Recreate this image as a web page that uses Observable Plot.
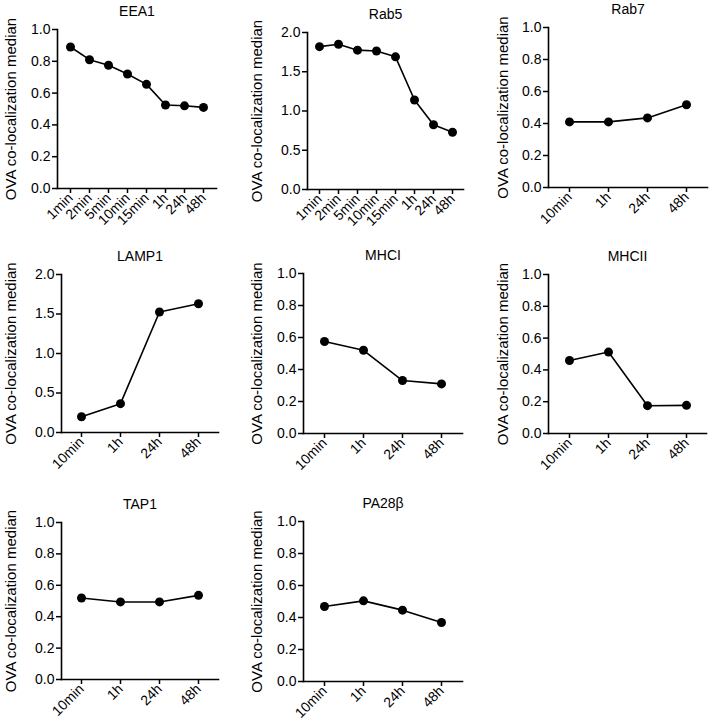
<!DOCTYPE html>
<html><head><meta charset="utf-8">
<script src="https://cdn.jsdelivr.net/npm/d3@7"></script>
<script src="https://cdn.jsdelivr.net/npm/@observablehq/plot@0.6"></script>
<style>
html,body{margin:0;padding:0;background:#fff;overflow:hidden;}
#root{position:relative;width:709px;height:726px;background:#fff;}
.panel{position:absolute;}
.panel text{font-weight:normal;}
</style></head><body><div id="root"></div>
<script>
// ---- data ----
const longTimes = ["1min","2min","5min","10min","15min","1h","24h","48h"];
const shortTimes = ["10min","1h","24h","48h"];
const eea1  = [0.89, 0.81, 0.775, 0.72, 0.655, 0.525, 0.52, 0.51];
const rab5  = [1.82, 1.85, 1.775, 1.765, 1.69, 1.14, 0.825, 0.73];
const rab7  = [0.41, 0.41, 0.435, 0.517];
const lamp1 = [0.20, 0.365, 1.525, 1.63];
const mhci  = [0.575, 0.52, 0.331, 0.31];
const mhcii = [0.459, 0.512, 0.175, 0.177];
const tap1  = [0.519, 0.494, 0.494, 0.536];
const pa28b = [0.469, 0.504, 0.446, 0.369];
const panelNames = ["EEA1","Rab5","Rab7","LAMP1","MHCI","MHCII","TAP1","PA28β"];
const yTicksOne = [0, 0.2, 0.4, 0.6, 0.8, 1.0];
const yTicksTwo = [0, 0.5, 1.0, 1.5, 2.0];
const yLabel = "OVA co-localization median";

const panelTimes  = [longTimes, longTimes, shortTimes, shortTimes, shortTimes, shortTimes, shortTimes, shortTimes];
const panelValues = [eea1, rab5, rab7, lamp1, mhci, mhcii, tap1, pa28b];
const panelTicks  = [yTicksOne, yTicksTwo, yTicksOne, yTicksTwo, yTicksOne, yTicksOne, yTicksOne, yTicksOne];

// ---- layout (pixel geometry of each panel) : axisX, top, bottom, frameWidth, labelX ----
const layout = [
  [57, 29, 188, 159, 2],
  [307, 32, 189, 156, 248],
  [548, 27, 187, 159, 494],
  [61, 274, 432, 157, 2],
  [303, 273, 433, 159, 248],
  [548, 274, 433, 158, 494],
  [61, 522, 679, 157, 2],
  [303, 521, 681, 159, 248]
];

const font = "'Liberation Sans', Arial, Helvetica, sans-serif";
const root = document.getElementById("root");

panelNames.forEach((name, i) => {
  const times = panelTimes[i];
  const vals = panelValues[i];
  const ticks = panelTicks[i];
  const data = times.map((t, j) => ({time: t, value: vals[j]}));
  const [L, T, B, W, LX] = layout[i];
  const mL = L - LX, mT = 28, mB = 56, mR = 4;
  const chart = Plot.plot({
    width: mL + W + mR,
    height: mT + (B - T) + mB,
    marginLeft: mL, marginTop: mT, marginBottom: mB, marginRight: mR,
    style: {fontFamily: font, fontSize: "14px", background: "transparent", overflow: "visible", color: "#000"},
    x: {type: "point", domain: times, padding: 0.5},
    y: {domain: [0, ticks[ticks.length - 1]]},
    marks: [
      Plot.frame({anchor: "left", stroke: "#000", strokeWidth: 1.6}),
      Plot.frame({anchor: "bottom", stroke: "#000", strokeWidth: 1.6}),
      Plot.axisY({ticks: ticks, tickFormat: d3.format(".1f"), tickSize: 5, tickPadding: 2, strokeWidth: 1.5, fontSize: 14, label: null}),
      Plot.axisY({ticks: [], tickSize: 0, label: yLabel, labelAnchor: "center", labelArrow: "none", fontSize: 15}),
      Plot.axisX({tickRotate: -45, tickSize: 5, tickPadding: 2, strokeWidth: 1.5, fontSize: 14, label: null}),
      Plot.text([name], {frameAnchor: "top", dy: -14, lineAnchor: "bottom", fontSize: 14, fontWeight: "normal", fill: "#000"}),
      Plot.line(data, {x: "time", y: "value", stroke: "#000", strokeWidth: 1.6}),
      Plot.dot(data, {x: "time", y: "value", r: 4.5, fill: "#000", stroke: "none"})
    ]
  });
  chart.classList.add("panel");
  chart.style.left = (L - mL) + "px";
  chart.style.top = (T - mT) + "px";
  root.appendChild(chart);
});
</script></body></html>
